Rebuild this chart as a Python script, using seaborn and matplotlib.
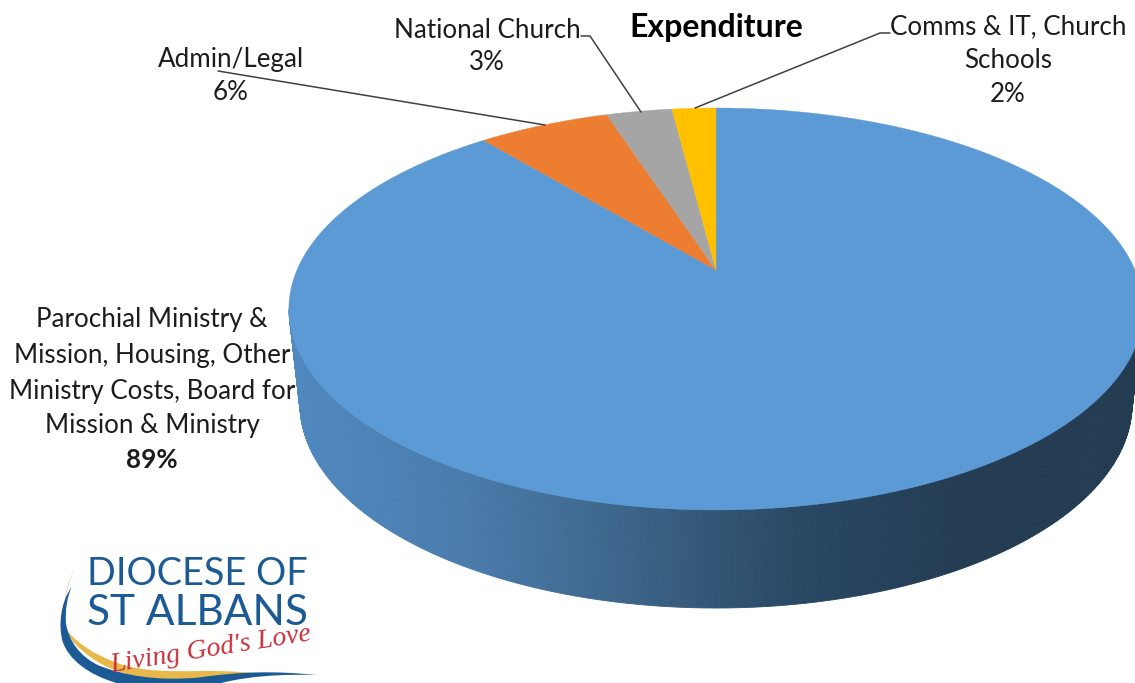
import numpy as np
import seaborn as sns
import matplotlib
matplotlib.use("Agg")
import matplotlib.pyplot as plt
from matplotlib.path import Path
from matplotlib.patches import PathPatch

# data
slice_names = ["Parochial Ministry & Mission, Housing, Other Ministry Costs, Board for Mission & Ministry",
               "Admin/Legal", "National Church", "Comms & IT, Church Schools"]
slice_values = [89, 6, 3, 2]
slice_colors = ["#5B9AD5", "#ED7D31", "#A5A5A5", "#FFC000"]
side_colors = ["#4F88BF", "#4A7CAC", "#3C6488", "#294864", "#233C52", "#233C52"]

sns.set_theme(style="white")
plt.rcParams['font.family'] = ['Lato', 'DejaVu Sans']
TEXT = "#1c1c1c"
W, H = 1135, 683

fig = plt.figure(figsize=(W / 100, H / 100), dpi=100)
ax = fig.add_axes([0, 0, 1, 1])


def project(x, y):
	# tilted disc, the apex sits above the middle of the ellipse
	k = 0.194
	return 716 + 419 * x / (1 + k * y), 270 - 193.4 * y / (1 + k * y)


wedges, _ = ax.pie(slice_values, colors=slice_colors, startangle=90, counterclock=False)
ax.set_aspect("auto")
ax.set_xlim(0, W)
ax.set_ylim(H, 0)
ax.axis("off")

# side wall
n_side = 400
side_pal = sns.blend_palette(side_colors, n_side)
t = np.linspace(np.pi, 2 * np.pi, n_side + 1)
top_x, top_y = 716 + 427 * np.cos(t), 309 - 201 * np.sin(t)
bot_x, bot_y = 716 + 416 * np.cos(t), 404 - 204 * np.sin(t)
for i in range(n_side):
	c = side_pal[int(np.clip((top_x[i] - 290) / 845, 0, 0.999) * n_side)]
	ax.fill([top_x[i], top_x[i + 1], bot_x[i + 1], bot_x[i]],
			[top_y[i], top_y[i + 1], bot_y[i + 1], bot_y[i]],
			color=c, lw=0.6, zorder=2)

# top face from the pie wedges
for w in wedges:
	th = np.radians(np.linspace(w.theta1, w.theta2, 300))
	px, py = project(np.cos(th), np.sin(th))
	cx, cy = project(0, 0)
	ax.fill(np.r_[cx, px], np.r_[cy, py], color=w.get_facecolor(), lw=0.3, zorder=3)
	w.set_visible(False)

# leader lines
for lx, ly in [([218, 545], [71, 125]),
			   ([581, 590, 641], [36, 36, 112]),
			   ([695, 880, 890], [108, 33, 33])]:
	ax.plot(lx, ly, color="#404040", lw=1.1, zorder=4)

# labels
ax.text(716, 28, "Expenditure", ha="center", va="center", fontsize=23, fontweight="bold", color="black", zorder=5)
for x, y, s in [(231, 60, "Admin/Legal"), (231, 92, "6%"),
				(487, 30, "National Church"), (487, 63, "3%"),
				(1008, 27, "Comms & IT, Church"), (1008, 60, "Schools"), (1008, 94, "2%"),
				(152, 320, "Parochial Ministry &"), (152, 355, "Mission, Housing, Other"),
				(152, 391, "Ministry Costs, Board for"), (152, 426, "Mission & Ministry")]:
	ax.text(x, y, s, ha="center", va="center", fontsize=18.7, color=TEXT, zorder=5)
ax.text(152, 460, "89%", ha="center", va="center", fontsize=18.7, fontweight="bold", color=TEXT, zorder=5)


# logo
def logo_xy(pts):
	return [(40 + a / 3, 540 + b / 3) for a, b in pts]


def swoosh(start, curves, color):
	verts = [start]
	codes = [Path.MOVETO]
	for c in curves:
		verts += c
		codes += [Path.CURVE4] * 3 if len(c) == 3 else [Path.LINETO]
	verts += [start]
	codes += [Path.CLOSEPOLY]
	ax.add_patch(PathPatch(Path(logo_xy(verts), codes), fc=color, ec="none", zorder=6))


swoosh((80, 270), [[(120, 320), (180, 350), (235, 370)], [(300, 395), (400, 395), (480, 393)],
				   [(540, 392), (600, 395), (650, 400)], [(480, 415)],
				   [(350, 430), (230, 410), (150, 350)], [(110, 320), (90, 300), (80, 270)]], "#E8B84A")
swoosh((105, 85), [[(85, 120), (75, 160), (72, 195)], [(80, 150), (90, 115), (105, 85)]], "#E3C77E")
swoosh((95, 140), [[(60, 190), (55, 260), (68, 305)], [(85, 355), (140, 405), (240, 432)], [(470, 450)],
				   [(560, 420), (660, 400), (830, 405)], [(700, 392), (600, 395), (480, 412)],
				   [(350, 425), (250, 405), (180, 378)], [(120, 352), (85, 300), (78, 250)],
				   [(75, 210), (82, 170), (95, 140)]], "#1C5A96")
ax.text(197, 574, "DIOCESE OF", ha="center", va="center", fontsize=27.3, color="#1C5A96", zorder=7)
ax.text(197, 613, "ST ALBANS", ha="center", va="center", fontsize=30.5, color="#1C5A96", zorder=7)
ax.text(211, 650, "Living God's Love", ha="center", va="center", rotation=9, fontsize=20, style="italic",
		family="Liberation Serif", color="#C9303A", zorder=8)

fig.savefig("out.png", dpi=100, facecolor="white")
